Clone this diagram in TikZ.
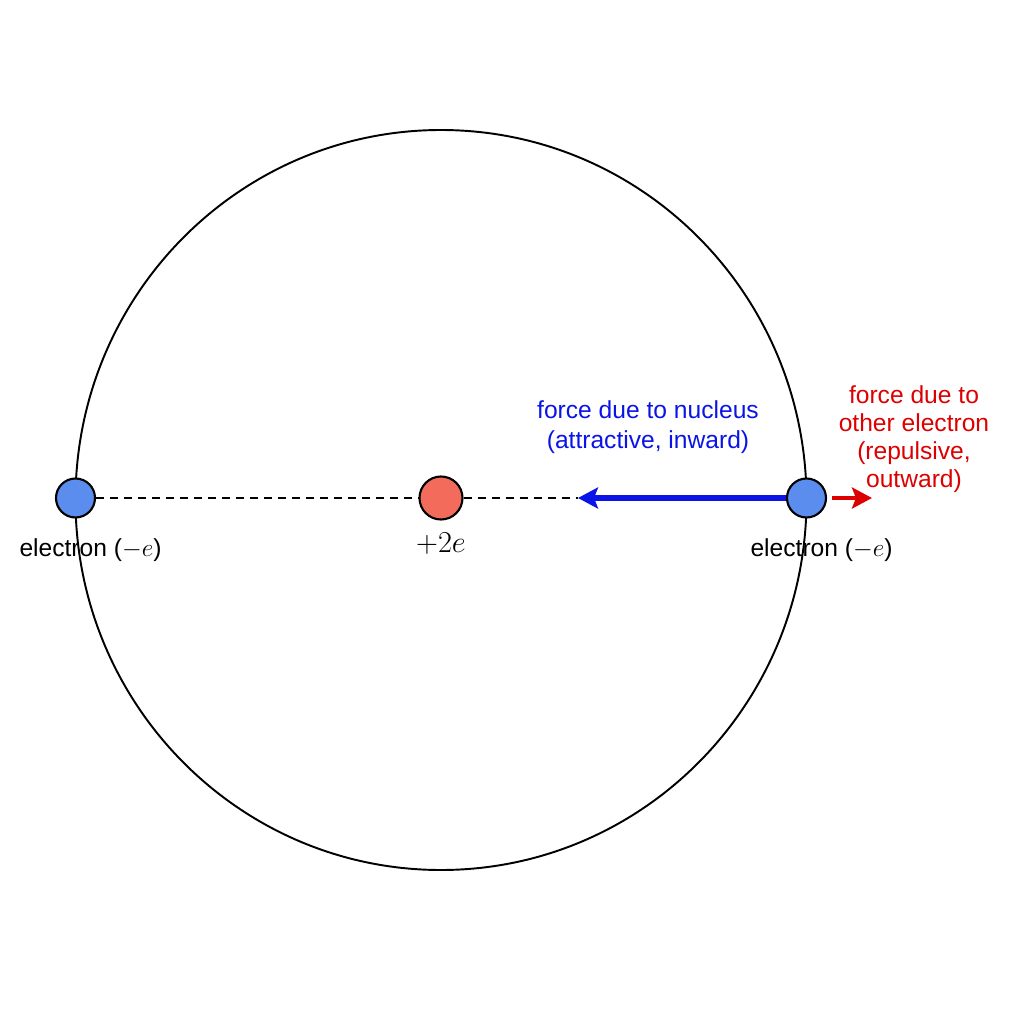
\documentclass[tikz,border=0pt]{standalone}
\usepackage{fontspec}
\setmainfont{Liberation Sans}
\usetikzlibrary{positioning,arrows.meta}

\definecolor{elecblue}{HTML}{5B8DEF}
\definecolor{nucred}{HTML}{F26B5B}
\definecolor{pullblue}{HTML}{0A14E6}
\definecolor{pushred}{HTML}{DD0000}

\begin{document}
\begin{tikzpicture}[
    charge/.style = {circle, draw=black, line width=1.2pt, inner sep=0pt, minimum size=0.78cm},
    elec/.style = {charge, fill=elecblue},
    lbl/.style = {font=\fontsize{14}{17}\selectfont, align=center, inner sep=0pt},
    pull/.style = {draw=pullblue, line width=3pt, -{Stealth[length=0.4cm, width=0.42cm, inset=0.08cm]}},
    push/.style = {draw=pushred, line width=2.6pt, -{Stealth[length=0.4cm, width=0.42cm, inset=0.08cm]}},
  ]
  \useasboundingbox (-8.82,-10.52) rectangle (11.66,9.96);

  % orbit
  \draw[line width=1.1pt] (0,-0.04) ellipse [x radius=7.31, y radius=7.4];

  \node[elec] (eL) at (-7.31,0) {};
  \node[elec] (eR) at (7.31,0) {};
  \node[charge, fill=nucred, minimum size=0.86cm] (n) at (0,0) {};

  \coordinate (tip) at (2.74,0);
  \coordinate (rtip) at (8.62,0);

  \draw[line width=1pt, dash pattern=on 0.16cm off 0.12cm] (eL) -- (n);
  \draw[line width=1pt, dash pattern=on 0.16cm off 0.12cm] (n) -- (tip);

  \draw[pull] (eR) -- (tip);
  \draw[push, shorten <=0.1cm] (eR) -- (rtip);

  \node[lbl, below=0.4cm of eL, xshift=0.3cm] (lL) {electron ($-e$)};
  \node[lbl, below=0.4cm of eR, xshift=0.3cm] (lR) {electron ($-e$)};
  \node[inner sep=0pt, font=\fontsize{17}{20}\selectfont, below=0.25cm of n] (ln) {$+2e$};

  \node[lbl, text=pullblue] (fn) at (4.14,1.42) {force due to nucleus\\(attractive, inward)};
  \node[lbl, text=pushred, font=\fontsize{14}{16}\selectfont] (fe) at (9.46,1.18)
    {force due to\\other electron\\(repulsive,\\outward)};
\end{tikzpicture}
\end{document}
